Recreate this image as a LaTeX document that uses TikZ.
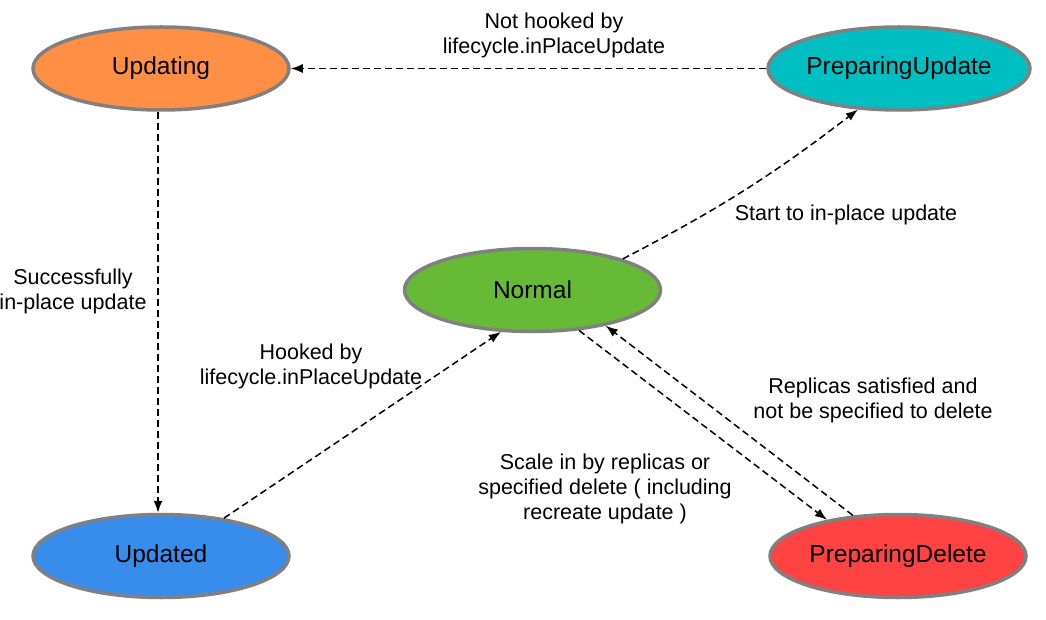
\documentclass[tikz,border=0pt]{standalone}
\usepackage{fontspec}
\setmainfont{Liberation Sans}
\usetikzlibrary{shapes.geometric,arrows.meta}
\definecolor{cUpdating}{HTML}{FF8F45}
\definecolor{cPrepUpd}{HTML}{00BFC2}
\definecolor{cNormal}{HTML}{67BA35}
\definecolor{cUpdated}{HTML}{388CEB}
\definecolor{cPrepDel}{HTML}{FF4242}
\definecolor{cBorder}{HTML}{808080}
\tikzset{
  state/.style={ellipse, draw=cBorder, line width=3.5pt, inner sep=0pt,
    minimum width=256pt, minimum height=83pt,
    font=\fontsize{24.5}{29}\selectfont},
  trans/.style={line width=1.5pt, dash pattern=on 7pt off 4pt,
    -{Latex[length=12pt,width=9pt]}},
  lbl/.style={align=center, inner sep=0pt, font=\fontsize{21.5}{25}\selectfont}
}
\begin{document}
\begin{tikzpicture}[x=1pt,y=1pt]
\useasboundingbox (0,0) rectangle (1046,-620);
\node[state, fill=cUpdating] (updating) at (161,-68.5) {Updating};
\node[state, fill=cPrepUpd] (prepupd) at (899,-68.5) {PreparingUpdate};
\node[state, fill=cNormal] (normal) at (532.5,-290) {Normal};
\node[state, fill=cUpdated] (updated) at (161,-556) {Updated};
\node[state, fill=cPrepDel] (prepdel) at (898,-556) {PreparingDelete};

\draw[trans] (prepupd.west) -- (updating.east);
\draw[trans] ([xshift=-3pt]updating.south) -- ([xshift=-3pt]updated.north);
\draw[trans] (updated.31) -- (normal.233);
\draw[trans] (normal.19) to[bend right=5] (prepupd.225);
\draw[trans] (normal.319) -- (prepdel.153);
\draw[trans] (prepdel.138) -- (normal.334);

\node[lbl] (l1) at (554,-35) {Not hooked by\\lifecycle.inPlaceUpdate};
\node[lbl] (l2) at (846,-215) {Start to in-place update};
\node[lbl] (l3) at (73,-291) {Successfully\\in-place update};
\node[lbl] (l4) at (311,-366) {Hooked by\\lifecycle.inPlaceUpdate};
\node[lbl] (l5) at (873,-400) {Replicas satisfied and\\not be specified to delete};
\node[lbl] (l6) at (605,-489) {Scale in by replicas or\\specified delete ( including\\recreate update )};
\end{tikzpicture}
\end{document}
